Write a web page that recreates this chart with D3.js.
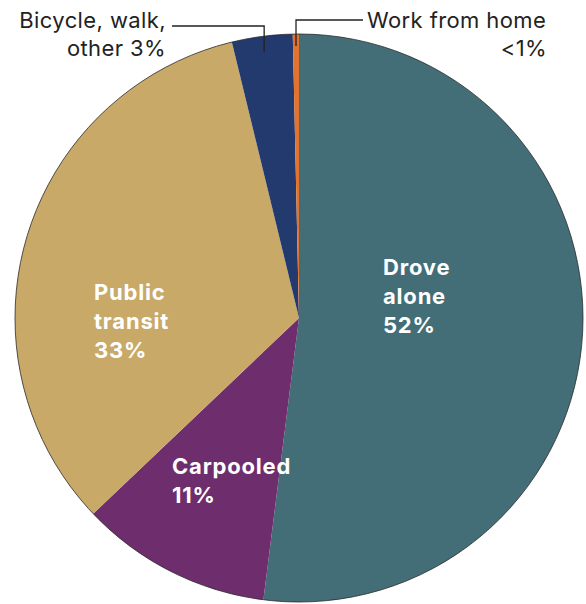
<!DOCTYPE html>
<html>
<head>
<meta charset="utf-8">
<script src="https://cdn.jsdelivr.net/npm/d3@7.9.0/dist/d3.min.js"></script>
<style>
  body { margin: 0; background: #fff; }
  svg { display: block; font-family: Inter, "Noto Sans", sans-serif; }
</style>
</head>
<body>
<div id="chart"></div>
<script>
// commute mode shares (percent), clockwise from 12 o'clock
const modes = ['Drove alone', 'Carpooled', 'Public transit', 'Bicycle, walk, other', 'Work from home'];
const shares = [52.0, 10.9, 33.3, 3.45, 0.35];
const colors = ['#436e77', '#6e2d6c', '#c8a968', '#233a6f', '#e2722f'];

// inside labels (lines per slice)
const insideLabels = [
  ['Drove', 'alone', '52%'],
  ['Carpooled', '11%'],
  ['Public', 'transit', '33%'],
];
const insidePos = [[383, 275], [172, 474], [94, 300]];

const width = 586, height = 604;
const cx = 299, cy = 318, radius = 284;

const svg = d3.select('#chart').append('svg')
  .attr('width', width)
  .attr('height', height);

const pie = d3.pie().sort(null).value(d => d);
const arcs = pie(shares);
const arc = d3.arc().innerRadius(0).outerRadius(radius);

const g = svg.append('g').attr('transform', `translate(${cx},${cy})`);

g.selectAll('path')
  .data(arcs)
  .join('path')
  .attr('d', arc)
  .attr('fill', (d, i) => colors[i]);

// thin outline
g.append('circle')
  .attr('r', radius)
  .attr('fill', 'none')
  .attr('stroke', '#2b2b2b')
  .attr('stroke-width', 0.8);

// inside labels
insideLabels.forEach((lines, i) => {
  const t = svg.append('text')
    .attr('x', insidePos[i][0])
    .attr('y', insidePos[i][1])
    .attr('fill', '#fff')
    .attr('font-size', 22)
    .attr('font-weight', 700)
    .attr('letter-spacing', 0.8);
  lines.forEach((l, j) => {
    t.append('tspan').attr('x', insidePos[i][0]).attr('dy', j === 0 ? 0 : 29).text(l);
  });
});

// outside callouts
const callout = svg.append('g')
  .attr('font-size', 22)
  .attr('letter-spacing', 0.4)
  .attr('fill', '#222');

function pointAt(i, r) {
  const a = arcs[i];
  const mid = (a.startAngle + a.endAngle) / 2;
  return [cx + Math.sin(mid) * r, cy - Math.cos(mid) * r];
}

const bike = pointAt(3, radius - 16);
const home = pointAt(4, radius - 12);

callout.append('path')
  .attr('d', `M172,26H${bike[0]}V${bike[1]}`)
  .attr('fill', 'none')
  .attr('stroke', '#222')
  .attr('stroke-width', 1.3);

callout.append('path')
  .attr('d', `M363,20H${home[0]}V${home[1]}`)
  .attr('fill', 'none')
  .attr('stroke', '#222')
  .attr('stroke-width', 1.3);

callout.append('text').attr('x', 166).attr('y', 28).attr('text-anchor', 'end').text('Bicycle, walk,');
callout.append('text').attr('x', 166).attr('y', 56).attr('text-anchor', 'end').text('other 3%');
callout.append('text').attr('x', 367).attr('y', 28).text('Work from home');
callout.append('text').attr('x', 547).attr('y', 56).attr('text-anchor', 'end').text('<1%');
</script>
</body>
</html>
